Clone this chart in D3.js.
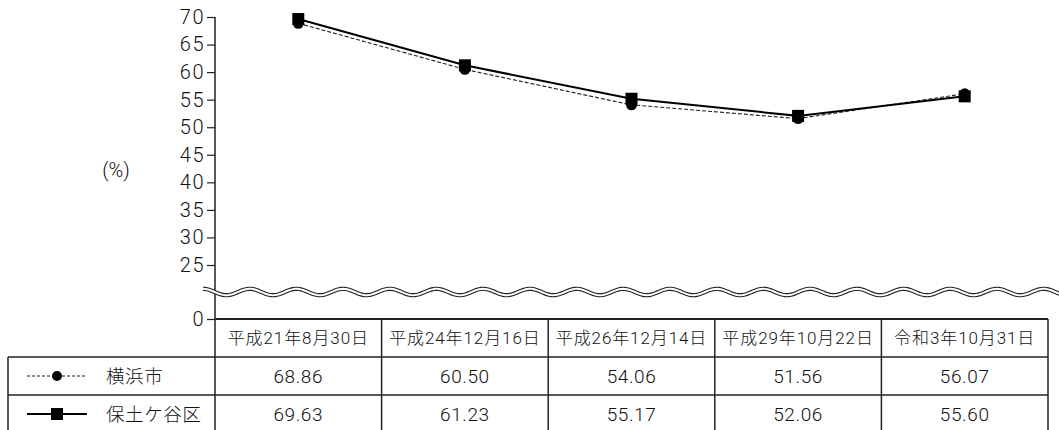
<!DOCTYPE html>
<html><head><meta charset="utf-8">
<script src="https://cdn.jsdelivr.net/npm/d3@7/dist/d3.min.js"></script>
<style>
html,body{margin:0;padding:0;background:#fff;}
text{font-family:"Roboto","Noto Sans CJK JP",sans-serif;font-weight:300;fill:#111;}
</style></head>
<body><svg id="c" width="1059" height="430"></svg>
<script>
const categories = ["平成21年8月30日","平成24年12月16日","平成26年12月14日","平成29年10月22日","令和3年10月31日"];
const seriesNames = ["横浜市","保土ケ谷区"];
const yokohama = [68.86, 60.50, 54.06, 51.56, 56.07];
const hodogaya = [69.63, 61.23, 55.17, 52.06, 55.60];
const yTicks = [0,25,30,35,40,45,50,55,60,65,70];
const unitLabel = "(%)";

const svg = d3.select("#c");
const left = 215, right = 1048, tableLeft = 8;
const rowTop = 319, rowH = 38;

const x = d3.scaleBand().domain(categories).range([left, right]);
const y = d3.scaleLinear().domain([0, 25, 70]).range([rowTop, 265, 17]);

// y axis
const ax = svg.append("g").attr("transform", `translate(${left},0)`)
  .call(d3.axisLeft(y).tickValues(yTicks).tickSize(8).tickPadding(3));
ax.select(".domain").remove();
ax.selectAll(".tick line").attr("stroke", "#222").attr("stroke-width", 1.2);
ax.selectAll(".tick text").attr("font-size", 20).attr("fill", "#111")
  .attr("font-family", null).style("letter-spacing", "1.8px").attr("dx", "1.5");

svg.append("text").attr("x", 116).attr("y", 177).attr("text-anchor", "middle")
  .attr("font-size", 20).text(unitLabel);

// table grid
const g = svg.append("g").attr("stroke", "#222").attr("fill", "none");
g.append("line").attr("x1", left).attr("x2", left).attr("y1", 17).attr("y2", 440).attr("stroke-width", 1.5);
g.append("line").attr("x1", left).attr("x2", right).attr("y1", rowTop).attr("y2", rowTop).attr("stroke-width", 2.2);
[1,2,3].forEach(i => {
  g.append("line").attr("x1", tableLeft).attr("x2", right)
    .attr("y1", rowTop + i*rowH).attr("y2", rowTop + i*rowH).attr("stroke-width", 1.5);
});
g.append("line").attr("x1", tableLeft).attr("x2", tableLeft).attr("y1", rowTop + rowH).attr("y2", 440).attr("stroke-width", 1.5);
categories.forEach((c, i) => {
  const xe = x(c) + x.bandwidth();
  g.append("line").attr("x1", xe).attr("x2", xe).attr("y1", rowTop).attr("y2", 440).attr("stroke-width", 1.5);
});

// header & values
categories.forEach((c) => {
  svg.append("text").attr("x", x(c) + x.bandwidth()/2).attr("y", rowTop + rowH/2 + 6)
    .attr("text-anchor", "middle").attr("font-size", 17).style("letter-spacing", "0.9px").text(c);
});
[yokohama, hodogaya].forEach((vals, r) => {
  vals.forEach((v, i) => {
    svg.append("text").attr("x", x(categories[i]) + x.bandwidth()/2)
      .attr("y", rowTop + rowH*(r+1) + rowH/2 + 7)
      .attr("text-anchor", "middle").attr("font-size", 19).style("letter-spacing", "0.6px")
      .text(v.toFixed(2));
  });
});

// legend cells
const ly1 = rowTop + rowH*1.5, ly2 = rowTop + rowH*2.5;
svg.append("line").attr("x1", 27).attr("x2", 86).attr("y1", ly1).attr("y2", ly1)
  .attr("stroke", "#222").attr("stroke-width", 1.1).attr("stroke-dasharray", "3,2");
svg.append("circle").attr("cx", 57).attr("cy", ly1).attr("r", 5).attr("fill", "#000");
svg.append("line").attr("x1", 27).attr("x2", 87).attr("y1", ly2).attr("y2", ly2)
  .attr("stroke", "#000").attr("stroke-width", 2);
svg.append("rect").attr("x", 51).attr("y", ly2 - 6).attr("width", 12).attr("height", 12).attr("fill", "#000");
seriesNames.forEach((n, i) => {
  svg.append("text").attr("x", 106).attr("y", (i ? ly2 : ly1) + 7)
    .attr("font-size", 18.5).style("letter-spacing", "0.6px").text(n);
});

// break wave
const wave = [];
for (let xx = 203; xx <= 1062; xx += 2) wave.push([xx, 292 - 3.2*Math.cos(2*Math.PI*(xx-203)/46.7)]);
const wl = d3.line();
svg.append("path").attr("d", wl(wave)).attr("fill", "none").attr("stroke", "#222").attr("stroke-width", 4.2);
svg.append("path").attr("d", wl(wave)).attr("fill", "none").attr("stroke", "#fff").attr("stroke-width", 2);

// series
const cx = c => x(c) + x.bandwidth()/2;
const line = d3.line().x((d, i) => cx(categories[i])).y(d => y(d));
svg.append("path").attr("d", line(yokohama)).attr("fill", "none")
  .attr("stroke", "#222").attr("stroke-width", 1.1).attr("stroke-dasharray", "4,2");
svg.selectAll(".pc").data(yokohama).enter().append("circle")
  .attr("cx", (d, i) => cx(categories[i])).attr("cy", d => y(d)).attr("r", 5.5).attr("fill", "#000");
svg.append("path").attr("d", line(hodogaya)).attr("fill", "none")
  .attr("stroke", "#000").attr("stroke-width", 2);
svg.selectAll(".ps").data(hodogaya).enter().append("rect")
  .attr("x", (d, i) => cx(categories[i]) - 6).attr("y", d => y(d) - 6)
  .attr("width", 12).attr("height", 12).attr("fill", "#000");
</script></body></html>
